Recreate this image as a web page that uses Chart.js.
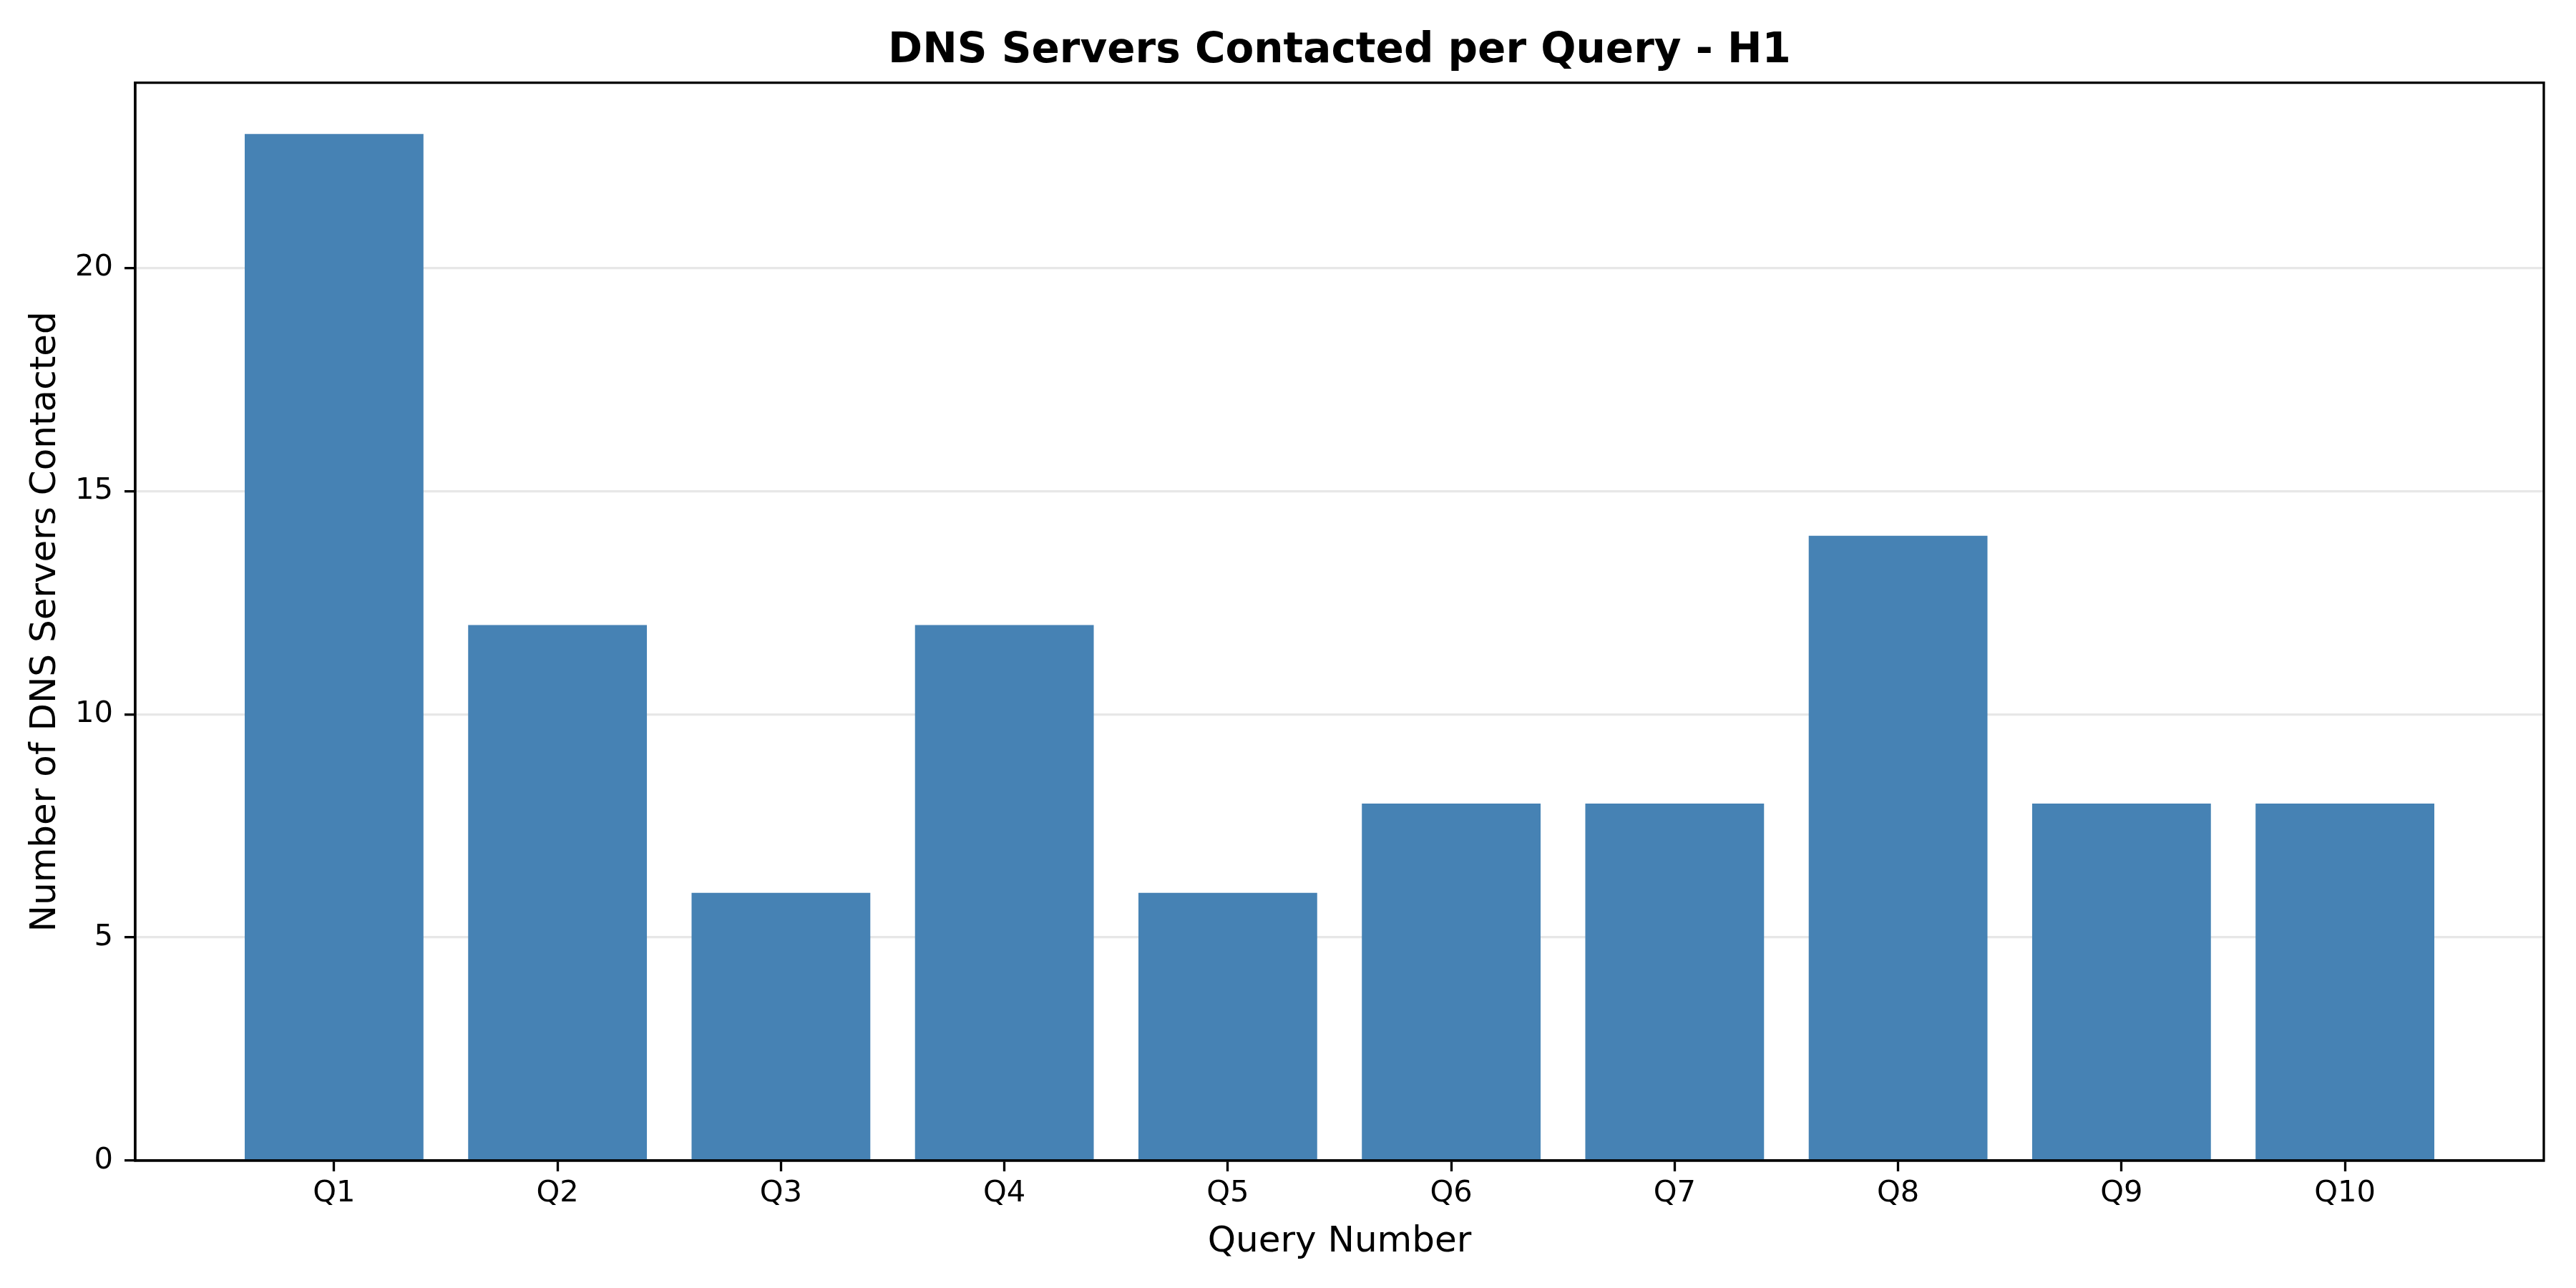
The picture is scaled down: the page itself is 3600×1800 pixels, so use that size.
<!DOCTYPE html>
<html>
<head>
<meta charset="utf-8">
<script src="https://cdn.jsdelivr.net/npm/chart.js@4/dist/chart.umd.min.js"></script>
<style>
html,body{margin:0;padding:0;background:#fff;}
canvas{display:block;}
</style>
</head>
<body>
<canvas id="c" width="3600" height="1800"></canvas>
<script>
const categories = ['Q1','Q2','Q3','Q4','Q5','Q6','Q7','Q8','Q9','Q10'];
const serversContacted = [23, 12, 6, 12, 6, 8, 8, 14, 8, 8];
const yTickValues = [0, 5, 10, 15, 20];
const chartTitle = 'DNS Servers Contacted per Query - H1';
const xTitle = 'Query Number';
const yTitle = 'Number of DNS Servers Contacted';

const FONT = "'DejaVu Sans', sans-serif";
const LW = 3.33;

const framePlugin = {
  id: 'frame',
  afterDraw(chart) {
    const a = chart.chartArea, ctx = chart.ctx;
    ctx.save();
    ctx.strokeStyle = '#000';
    ctx.lineWidth = LW;
    ctx.strokeRect(a.left, a.top, a.right - a.left, a.bottom - a.top);
    ctx.restore();
  }
};

const yMax = Math.max(...serversContacted) * 1.05;
const xPad = 0.4 + 0.05 * (categories.length - 1 + 0.8);

new Chart(document.getElementById('c'), {
  type: 'bar',
  data: {
    datasets: [{
      data: serversContacted.map((v, i) => ({x: i, y: v})),
      backgroundColor: '#4682B4',
      borderWidth: 0,
      barPercentage: 0.8,
      categoryPercentage: 1.0
    }]
  },
  options: {
    responsive: false,
    devicePixelRatio: 1,
    animation: false,
    layout: { padding: { left: 0, right: 45, top: 0, bottom: 0 } },
    plugins: {
      legend: { display: false },
      tooltip: { enabled: false },
      title: {
        display: true,
        text: chartTitle,
        fullSize: false,
        color: '#000',
        font: { family: FONT, size: 58, weight: 'bold' },
        padding: { top: 37, bottom: 9 }
      }
    },
    scales: {
      x: {
        type: 'linear',
        offset: false,
        min: -xPad,
        max: categories.length - 1 + xPad,
        afterFit(scale) { scale.height = 178; },
        afterBuildTicks(scale) { scale.ticks = categories.map((_, i) => ({ value: i })); },
        ticks: {
          autoSkip: false,
          maxRotation: 0,
          color: '#000',
          font: { family: FONT, size: 41.67 },
          padding: 6,
          callback: (v) => categories[v]
        },
        grid: {
          drawOnChartArea: false,
          drawTicks: true,
          tickLength: 15,
          tickWidth: LW,
          tickColor: '#000',
          offset: false
        },
        border: { display: true, color: '#000', width: LW },
        title: {
          display: true,
          text: xTitle,
          color: '#000',
          font: { family: FONT, size: 50 },
          padding: { top: 0, bottom: 34 }
        }
      },
      y: {
        type: 'linear',
        min: 0,
        max: yMax,
        z: 1,
        afterFit(scale) { scale.width = 189; },
        afterBuildTicks(scale) { scale.ticks = yTickValues.map(v => ({ value: v })); },
        ticks: {
          color: '#000',
          font: { family: FONT, size: 41.67 },
          padding: 16
        },
        grid: {
          color: (ctx) => (ctx.tick && ctx.tick.value === 0) ? 'rgba(0,0,0,0)' : 'rgba(176,176,176,0.3)',
          lineWidth: LW,
          drawTicks: true,
          tickLength: 15,
          tickWidth: LW,
          tickColor: '#000'
        },
        border: { display: true, color: '#000', width: LW },
        title: {
          display: true,
          text: yTitle,
          color: '#000',
          font: { family: FONT, size: 50 },
          padding: { top: 34, bottom: 0 }
        }
      }
    }
  },
  plugins: [framePlugin]
});
</script>
</body>
</html>
